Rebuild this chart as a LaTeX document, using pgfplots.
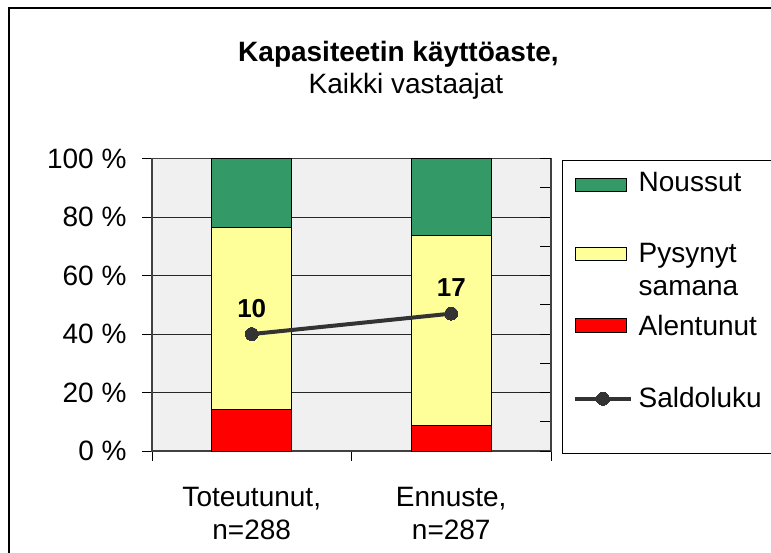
\documentclass[border=0pt]{standalone}
\usepackage{pgfplots}
\pgfplotsset{compat=1.18}
\usepackage{fontspec}
\setmainfont{Liberation Sans}
\definecolor{cgreen}{HTML}{339966}
\definecolor{cyellow}{HTML}{FFFF99}
\definecolor{cred}{HTML}{FF0000}
\definecolor{cline}{HTML}{333333}
\definecolor{cbg}{HTML}{F0F0F0}
\newcommand{\fsz}{\fontsize{28}{33.5}\selectfont}
\begin{document}
\begin{tikzpicture}[x=1pt,y=1pt]
\useasboundingbox (0,0) rectangle (771,552);
\draw[line width=1.2pt] (9,-5) -- (9,544) -- (780,544);
\node[anchor=base, font=\bfseries\fsz, inner sep=0pt] at (398.5,490.3) {Kapasiteetin käyttöaste,};
\node[anchor=base, font=\fsz, inner sep=0pt] at (406,458.7) {Kaikki vastaajat};

\begin{axis}[
  at={(152pt,101pt)}, anchor=south west,
  scale only axis, width=399pt, height=292.3pt,
  xmin=-0.5, xmax=1.5, ymin=0, ymax=100,
  ybar stacked, bar width=80pt,
  axis background/.style={fill=cbg},
  tick align=outside, major tick length=10pt,
  xtick={-0.5,0.5,1.5}, xticklabels={},
  extra x ticks={0,1},
  extra x tick labels={{Toteutunut,\\n=288},{Ennuste,\\n=287}},
  extra x tick style={major tick length=0pt},
  xticklabel style={align=center, font=\fsz, inner sep=0pt, yshift=-35.7pt},
  xtick pos=left, ytick pos=left,
  ytick={0,20,...,100},
  yticklabels={0 \%,20 \%,40 \%,60 \%,80 \%,100 \%},
  yticklabel style={font=\fsz, inner sep=0pt, xshift=-15.3pt},
  ymajorgrids, major grid style={black!85, line width=1pt},
  tick style={black, line width=1pt},
  axis line style={black!75, line width=1.3pt},
]
\addplot[fill=cred, draw=black, line width=1pt] coordinates {(0,14.2) (1,8.6)};
\addplot[fill=cyellow, draw=black, line width=1pt] coordinates {(0,62.1) (1,65.0)};
\addplot[fill=cgreen, draw=black, line width=1pt] coordinates {(0,23.7) (1,26.4)};
\end{axis}

\begin{axis}[
  at={(152pt,101pt)}, anchor=south west,
  scale only axis, width=399pt, height=292.3pt,
  xmin=-0.5, xmax=1.5, ymin=-30, ymax=70,
  axis x line=none, axis y line*=right,
  ytick={-30,-20,...,70}, yticklabels={},
  tick align=inside, major tick length=11pt,
  tick style={black, line width=1pt},
  axis line style={black!75, line width=1.3pt, -},
  clip=false,
  legend style={at={(1.0268,0.99555)}, anchor=north west, draw=black, line width=1pt,
    inner xsep=11pt, inner ysep=0pt, column sep=6pt, row sep=0pt,
    font=\fsz, nodes={inner sep=0pt}},
  legend cell align=left,
]
\addlegendimage{legend image code/.code={\draw[fill=cgreen, draw=black, line width=1pt] (0pt,10.15pt) rectangle (51pt,23.15pt);}}
\addlegendentry[text width=121pt, align=left, text height=30.7pt, text depth=51pt]{Noussut}
\addlegendimage{legend image code/.code={\draw[fill=cyellow, draw=black, line width=1pt] (0pt,18.35pt) rectangle (51pt,31.65pt);}}
\addlegendentry[text height=20pt, text depth=53.3pt]{\begin{tabular}[t]{@{}l@{}}Pysynyt\\samana\end{tabular}}
\addlegendimage{legend image code/.code={\draw[fill=cred, draw=black, line width=1pt] (0pt,19.15pt) rectangle (51pt,32.85pt);}}
\addlegendentry[text height=20pt, text depth=51.7pt]{Alentunut}
\addplot[cline, line width=4pt, mark=*, mark size=6.5pt,
  mark options={fill=cline, draw=cline, line width=0pt},
  legend image code/.code={\draw[cline, line width=4pt, mark=*, mark size=6.5pt, mark repeat=2, mark phase=2] plot coordinates {(0pt,21.4pt) (27.75pt,21.4pt) (55.5pt,21.4pt)};},
  nodes near coords, point meta=explicit symbolic,
  every node near coord/.append style={font=\bfseries\fontsize{26}{30}\selectfont, anchor=base, yshift=17pt, inner sep=0pt, text=black}]
  coordinates {(0,10) [10] (1,17) [17]};
\addlegendentry[text height=20pt, text depth=46pt]{Saldoluku}
\end{axis}
\end{tikzpicture}
\end{document}
